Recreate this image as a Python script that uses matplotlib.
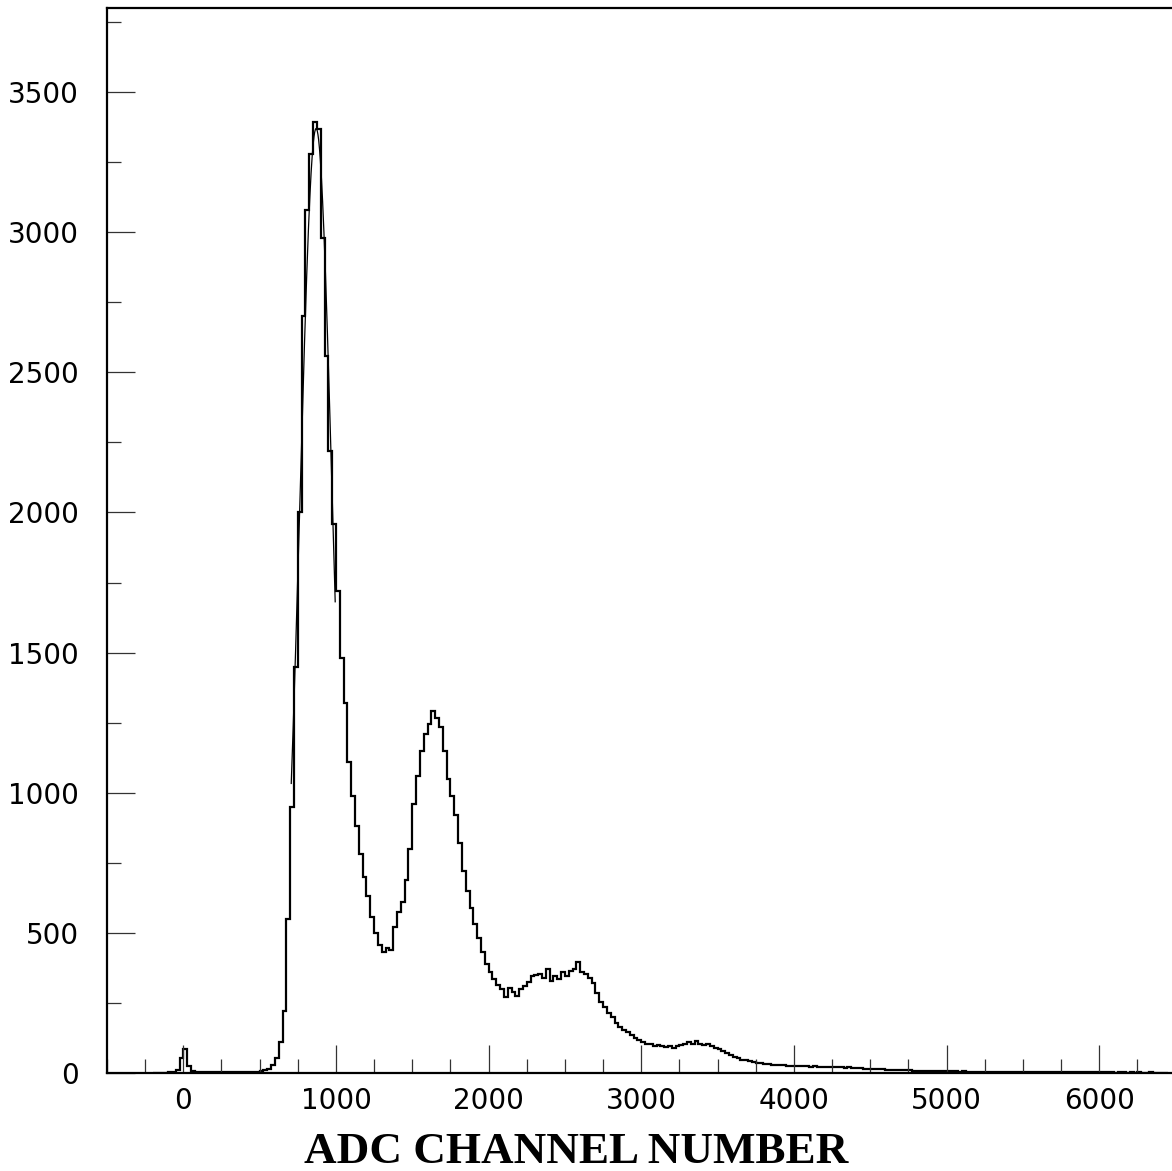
import numpy as np
import matplotlib.pyplot as plt
from matplotlib.ticker import MultipleLocator

# ---------------------------------------------------
# Histogram data (25-channel bins, first bin starts at -200)
# ---------------------------------------------------
bin_start = -200
bin_width = 25

pedestal_counts = [
    0, 0, 0, 1, 2, 3, 10, 55, 85, 25,            # -200 .. 25
    8, 4, 3, 3, 2, 3, 2, 2, 3, 2,                # 50 .. 275
    2, 3, 2, 3, 3, 4, 4, 5, 6, 9,                # 300 .. 525
]
first_peak_counts = [
    14, 30, 55, 110, 220, 550, 950, 1450, 2000, 2700,        # 550 .. 775
    3080, 3280, 3395, 3370, 2980, 2560, 2220, 1960, 1720, 1480,  # 800 .. 1025
    1320, 1110, 990, 880, 780, 700, 630, 555, 500, 455,      # 1050 .. 1275
]
second_peak_counts = [
    430, 445, 440, 520, 575, 610, 690, 800, 960, 1060,       # 1300 .. 1525
    1150, 1210, 1245, 1290, 1265, 1235, 1150, 1050, 990, 920,  # 1550 .. 1775
    820, 720, 650, 590, 530, 480, 430, 390, 360, 335,        # 1800 .. 2025
]
third_peak_counts = [
    315, 300, 270, 305, 290, 275, 300, 310, 325, 345,        # 2050 .. 2275
    350, 355, 340, 370, 330, 345, 335, 360, 345, 365,        # 2300 .. 2525
    370, 395, 360, 355, 340, 320, 285, 255, 235, 215,        # 2550 .. 2775
    200, 180, 165, 155, 145, 135, 125, 118, 110, 105,        # 2800 .. 3025
    102, 98, 100, 95, 93, 97, 90, 96, 100, 105,              # 3050 .. 3275
    112, 104, 115, 103, 100, 105, 95, 90, 85, 78,            # 3300 .. 3525
]
tail_counts = [
    72, 65, 58, 53, 48, 45, 42, 40, 37, 35,                  # 3550 .. 3775
    33, 31, 30, 29, 29, 27, 26, 26, 25, 25,                  # 3800 .. 4025
    24, 24, 23, 24, 22, 22, 22, 21, 21, 20,                  # 4050 .. 4275
    20, 19, 20, 18, 18, 17, 16, 16, 15, 14,                  # 4300 .. 4525
    14, 13, 12, 12, 11, 10, 10, 9, 9, 8,                     # 4550 .. 4775
    8, 8, 7, 7, 7, 6, 7, 6, 6, 6,                            # 4800 .. 5025
    6, 5, 6, 5, 5, 5, 5, 5, 4, 5,                            # 5050 .. 5275
    4, 4, 4, 4, 4, 4, 3, 4, 4, 3,                            # 5300 .. 5525
    3, 3, 4, 3, 3, 3, 3, 3, 2, 3,                            # 5550 .. 5775
    3, 2, 3, 2, 2, 3, 2, 2, 2, 2,                            # 5800 .. 6025
    2, 2, 1, 2, 2, 1, 2, 1, 2, 1,                            # 6050 .. 6275
    1, 2, 1, 1, 1, 0,                                        # 6300 .. 6425
]

# Gaussian fit to the first peak
fit_const = 3370
fit_mean = 870
fit_sigma = 106
fit_range = (707, 995)

x_ticks = [0, 1000, 2000, 3000, 4000, 5000, 6000]
y_ticks = [0, 500, 1000, 1500, 2000, 2500, 3000, 3500]

# ---------------------------------------------------
# Build and draw
# ---------------------------------------------------
counts = np.array(pedestal_counts + first_peak_counts + second_peak_counts
                  + third_peak_counts + tail_counts, dtype=float)
edges = bin_start + bin_width * np.arange(len(counts) + 1)

fig = plt.figure(figsize=(11.72, 11.71), dpi=100)
ax = fig.add_axes([107 / 1172, 98 / 1171, 1068.5 / 1172, 1065 / 1171])

ax.stairs(counts, edges, color="black", linewidth=1.6)

xf = np.linspace(fit_range[0], fit_range[1], 200)
yf = fit_const * np.exp(-0.5 * ((xf - fit_mean) / fit_sigma) ** 2)
ax.plot(xf, yf, color="black", linewidth=0.9)

ax.set_xlim(-500, 6500)
ax.set_ylim(0, 3800)

ax.set_xticks(x_ticks)
ax.set_yticks(y_ticks)
ax.xaxis.set_minor_locator(MultipleLocator(250))
ax.yaxis.set_minor_locator(MultipleLocator(250))

ax.tick_params(which="both", direction="in", width=0.9, color="#333333",
               top=False, right=False, labelsize=20)
ax.tick_params(which="major", length=20)
ax.tick_params(which="minor", length=10)
ax.tick_params(axis="y", pad=20)
ax.tick_params(axis="x", pad=10)

for lab in ax.get_xticklabels() + ax.get_yticklabels():
    lab.set_family("DejaVu Sans")

for side in ["left", "bottom", "top", "right"]:
    ax.spines[side].set_linewidth(1.6)

fig.text(576 / 1172, 8 / 1171, "ADC CHANNEL NUMBER", ha="center",
         va="baseline", fontsize=32.5, fontweight="bold",
         family="Liberation Serif")

fig.savefig("out.png", dpi=100)
